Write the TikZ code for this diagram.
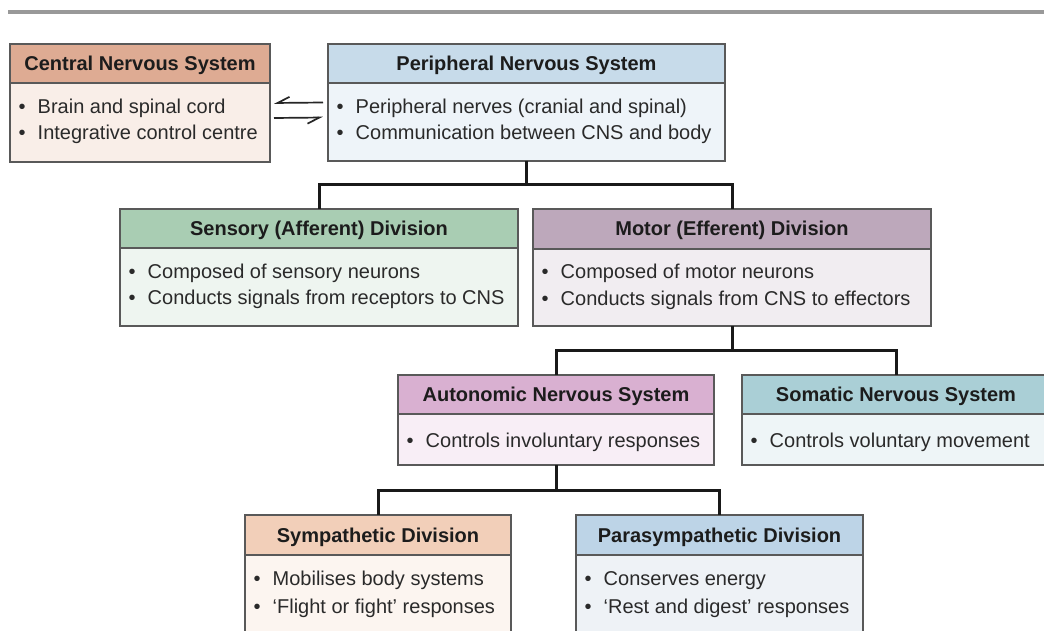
\documentclass[tikz,border=0pt]{standalone}
\usepackage{fontspec}
\setmainfont{Liberation Sans}
\usetikzlibrary{calc,arrows.meta}
\definecolor{bordc}{HTML}{595959}
\definecolor{txtc}{HTML}{2A2A2A}
\definecolor{ttlc}{HTML}{1C1C1C}
\definecolor{cnsH}{HTML}{DEAB93}\definecolor{cnsB}{HTML}{F9EEE8}
\definecolor{pnsH}{HTML}{C7DBEA}\definecolor{pnsB}{HTML}{EEF4F9}
\definecolor{senH}{HTML}{A9CDB3}\definecolor{senB}{HTML}{EEF5F0}
\definecolor{motH}{HTML}{BDA8BB}\definecolor{motB}{HTML}{F1EDF1}
\definecolor{autH}{HTML}{D9B0D1}\definecolor{autB}{HTML}{F8EEF6}
\definecolor{somH}{HTML}{AACFD6}\definecolor{somB}{HTML}{EEF5F7}
\definecolor{symH}{HTML}{F2CFB9}\definecolor{symB}{HTML}{FCF5F0}
\definecolor{parH}{HTML}{BDD4E7}\definecolor{parB}{HTML}{EEF2F6}
\tikzset{
  nsbox/.style={draw=bordc, line width=1.2pt, anchor=north west, inner sep=0pt, outer sep=0pt},
  title/.style={font=\bfseries\fontsize{20}{24}\selectfont, text=ttlc, inner sep=0pt, anchor=base},
  btext/.style={font=\fontsize{20}{24}\selectfont, text=txtc, anchor=base west, inner sep=0pt},
  conn/.style={line width=3pt, draw=black!90},
  harp/.style={line width=1.7pt, draw=black!85, -{Straight Barb[right, length=12pt, width=12pt, line width=1.7pt]}}
}
\newcommand\nbox[8]{%
  \node[nsbox, fill=#7B, minimum width=#4pt, minimum height=#5pt] (#1) at (#2,#3) {};
  \filldraw[fill=#7H, draw=bordc, line width=1.2pt] (#1.north west) rectangle ([yshift=-#6pt]#1.north east);
  \node[title] (#1T) at ($(#1.north)+(0,#6/2+7)$) {#8};
}
\newcommand\bline[4]{\node[btext] (#1) at (#2,#3) {\textbullet\hspace{12pt}#4};}
\begin{document}
\begin{tikzpicture}[x=1pt,y=-1pt]
\clip (0,0) rectangle (1044,631);
\fill[white] (0,0) rectangle (1044,631);
\fill[black!40] (8,10) rectangle (1044,14.5);
% boxes
\nbox{cns}{10}{44}{260}{118}{39}{cns}{Central Nervous System}
\bline{cnsA}{18.5}{114}{Brain and spinal cord}
\bline{cnsB}{18.5}{140}{Integrative control centre}
\nbox{pns}{328}{44}{397}{117}{39}{pns}{Peripheral Nervous System}
\bline{pnsA}{336.5}{114}{Peripheral nerves (cranial and spinal)}
\bline{pnsB}{336.5}{140}{Communication between CNS and body}
\nbox{sen}{120}{209}{398}{117}{39}{sen}{Sensory (Afferent) Division}
\bline{senA}{128.5}{278}{Composed of sensory neurons}
\bline{senB}{128.5}{304}{Conducts signals from receptors to CNS}
\nbox{mot}{533}{209}{398}{117}{40}{mot}{Motor (Efferent) Division}
\bline{motA}{541.5}{278}{Composed of motor neurons}
\bline{motB}{541.5}{305}{Conducts signals from CNS to effectors}
\nbox{aut}{398}{375}{316}{90}{39}{aut}{Autonomic Nervous System}
\bline{autA}{406.5}{447}{Controls involuntary responses}
\nbox{som}{742}{375}{308}{90}{39}{som}{Somatic Nervous System}
\bline{somA}{750.5}{447}{Controls voluntary movement}
\nbox{sym}{245}{515}{266}{140}{40}{sym}{Sympathetic Division}
\bline{symA}{253.5}{585}{Mobilises body systems}
\bline{symB}{253.5}{613}{‘Flight or fight’ responses}
\nbox{par}{576}{515}{287}{140}{40}{par}{Parasympathetic Division}
\bline{parA}{584.5}{585}{Conserves energy}
\bline{parB}{584.5}{613}{‘Rest and digest’ responses}
% harpoons between CNS and PNS
\draw[harp] ([xshift=-5pt]pns.west) -- ([xshift=4pt]cns.east);
\draw[harp] ([yshift=-15pt,xshift=4pt]cns.east) -- ([yshift=-15pt,xshift=-5pt]pns.west);
% connectors
\draw[conn] (pns.south) |- ($(pns.south)!.5!(sen.north)$) -| (sen.north);
\draw[conn] (pns.south) |- ($(pns.south)!.5!(mot.north)$) -| (mot.north);
\draw[conn] (mot.south) |- ($(mot.south)!.5!(aut.north)$) -| (aut.north);
\draw[conn] (mot.south) |- ($(mot.south)!.5!(som.north)$) -| (som.north);
\draw[conn] (aut.south) |- ($(aut.south)!.5!(sym.north)$) -| (sym.north);
\draw[conn] (aut.south) |- ($(aut.south)!.5!(par.north)$) -| (par.north);
\end{tikzpicture}
\end{document}
